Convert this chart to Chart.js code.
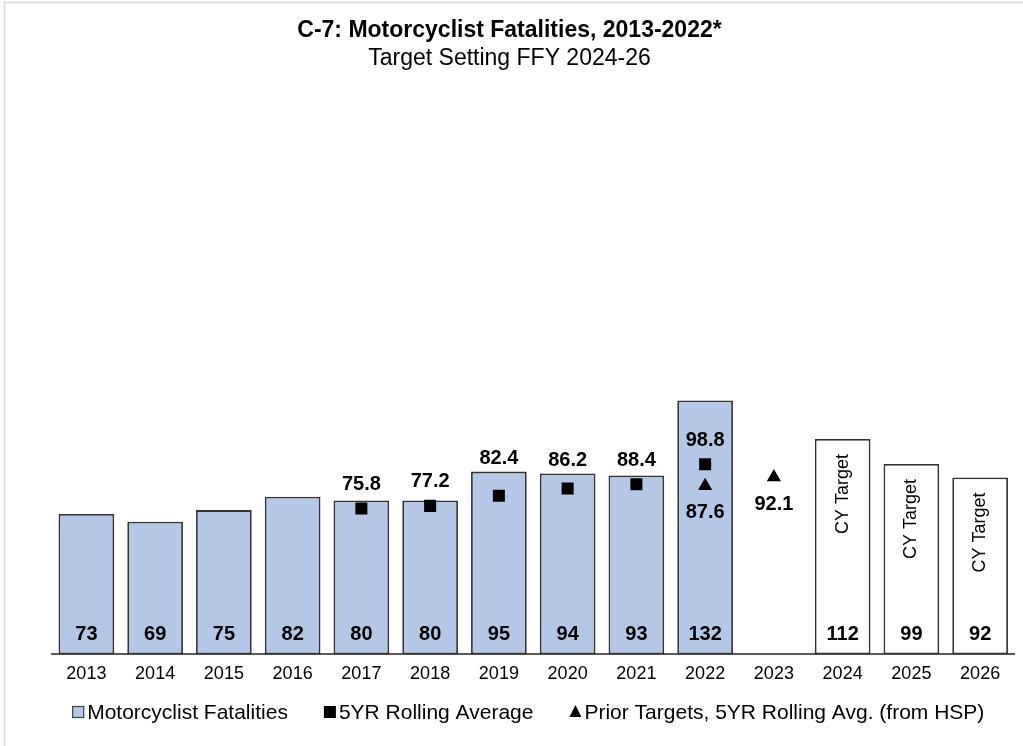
<!DOCTYPE html>
<html>
<head>
<meta charset="utf-8">
<script src="https://cdn.jsdelivr.net/npm/chart.js@4/dist/chart.umd.min.js"></script>
<style>
  html, body { margin: 0; padding: 0; background: #fff; }
  #wrap { width: 1023px; height: 746px; position: relative; }
</style>
</head>
<body>
<div id="wrap"><canvas id="grafico"></canvas></div>
<script>
// dados
const anos = ['2013','2014','2015','2016','2017','2018','2019','2020','2021','2022','2023','2024','2025','2026'];
const fatalidades = [73, 69, 75, 82, 80, 80, 95, 94, 93, 132, null, null, null, null];
const metasCY = [null, null, null, null, null, null, null, null, null, null, null, 112, 99, 92];
const mediaMovel = [null, null, null, null, 75.8, 77.2, 82.4, 86.2, 88.4, 98.8, null, null, null, null];
const metasAnteriores = [null, null, null, null, null, null, null, null, null, 87.6, 92.1, null, null, null];
const textoMeta = 'CY Target';

const FONTE = '"Liberation Sans", Arial, sans-serif';
const AZUL = '#B4C7E7';

const barras = fatalidades.map((v, i) => v !== null ? v : metasCY[i]);
const coresBarras = fatalidades.map(v => v !== null ? AZUL : '#FFFFFF');

/** rótulos de valor, texto "CY Target", legenda e moldura */
const rotulos = {
  id: 'rotulos',
  afterDatasetsDraw(chart) {
    const ctx = chart.ctx;
    ctx.save();
    ctx.fillStyle = '#000';
    ctx.textAlign = 'center';
    ctx.textBaseline = 'middle';
    ctx.font = 'bold 20px ' + FONTE;
    const base = chart.scales.y.getPixelForValue(0);
    const metaBarras = chart.getDatasetMeta(2).data;

    metaBarras.forEach((el, i) => {
      if (barras[i] === null) return;
      ctx.fillText(String(barras[i]), el.x, base - 20);
      if (metasCY[i] !== null) {
        ctx.save();
        ctx.font = '18px ' + FONTE;
        ctx.translate(el.x, el.y + 55);
        ctx.rotate(-Math.PI / 2);
        ctx.fillText(textoMeta, 0, 0);
        ctx.restore();
      }
    });
    // dataset 1 = média móvel (quadrados); rótulo sobe acima do topo da barra quando encosta nele
    chart.getDatasetMeta(1).data.forEach((el, i) => {
      if (mediaMovel[i] === null) return;
      let y = el.y - 24;
      const topo = metaBarras[i].y;
      if (y < topo + 10) y = Math.min(y, topo - 13);
      ctx.fillText(mediaMovel[i].toFixed(1), el.x, y);
    });
    // dataset 0 = metas anteriores (triângulos)
    chart.getDatasetMeta(0).data.forEach((el, i) => {
      if (metasAnteriores[i] === null) return;
      ctx.fillText(metasAnteriores[i].toFixed(1), el.x, el.y + 27);
    });
    ctx.restore();
  },
  afterDraw(chart) {
    const ctx = chart.ctx;
    ctx.save();
    // moldura cinza (topo e esquerda)
    ctx.strokeStyle = '#D9D9D9';
    ctx.lineWidth = 1.5;
    ctx.beginPath();
    ctx.moveTo(4.5, 746); ctx.lineTo(4.5, 2.5); ctx.lineTo(1023, 2.5);
    ctx.stroke();

    // legenda
    ctx.font = '21px ' + FONTE;
    ctx.textBaseline = 'middle';
    ctx.textAlign = 'left';
    const itens = chart.data.datasets.slice().reverse().map(ds => ds.label);
    const caixa = 12, folga = 3, espaco = 36;
    const larguras = itens.map(t => caixa + folga + ctx.measureText(t).width);
    const total = larguras.reduce((a, b) => a + b, 0) + espaco * (itens.length - 1);
    const area = chart.chartArea;
    let x = (area.left + area.right) / 2 - total / 2 - 5;
    const y = 712;
    itens.forEach((t, k) => {
      if (k === 0) {
        ctx.fillStyle = AZUL; ctx.strokeStyle = '#404040'; ctx.lineWidth = 1.2;
        ctx.fillRect(x, y - 6, caixa, caixa);
        ctx.strokeRect(x + 0.5, y - 5.5, caixa - 1, caixa - 1);
      } else if (k === 1) {
        ctx.fillStyle = '#000';
        ctx.fillRect(x, y - 6, caixa, caixa);
      } else {
        ctx.fillStyle = '#000';
        ctx.beginPath();
        ctx.moveTo(x + caixa / 2, y - 7); ctx.lineTo(x + caixa, y + 5); ctx.lineTo(x, y + 5);
        ctx.closePath(); ctx.fill();
      }
      ctx.fillStyle = '#000';
      ctx.fillText(t, x + caixa + folga, y + 1);
      x += larguras[k] + espaco;
    });
    ctx.restore();
  }
};

const ctx = document.getElementById('grafico').getContext('2d');
new Chart(ctx, {
  type: 'bar',
  data: {
    labels: anos,
    datasets: [
      { type: 'line', label: 'Prior Targets, 5YR Rolling Avg. (from HSP)', data: metasAnteriores, showLine: false,
        pointStyle: 'triangle', pointRadius: 8.2, pointBackgroundColor: '#000', pointBorderColor: '#000', pointBorderWidth: 0, order: 0 },
      { type: 'line', label: '5YR Rolling Average', data: mediaMovel, showLine: false,
        pointStyle: 'rect', pointRadius: 8.5, pointBackgroundColor: '#000', pointBorderColor: '#000', pointBorderWidth: 0, order: 1 },
      { type: 'bar', label: 'Motorcyclist Fatalities', data: barras, backgroundColor: coresBarras,
        borderColor: '#333333', borderWidth: 1.8, borderSkipped: false,
        barPercentage: 0.81, categoryPercentage: 1, order: 2 }
    ]
  },
  options: {
    responsive: true, maintainAspectRatio: false, animation: false,
    layout: { padding: { left: 0, right: 4, top: 0, bottom: 52 } },
    plugins: {
      legend: { display: false },
      tooltip: { enabled: false },
      title: { display: true, text: 'C-7: Motorcyclist Fatalities, 2013-2022*', color: '#000',
        font: { family: FONTE, size: 23, weight: 'bold' }, padding: { top: 17, bottom: 0 } },
      subtitle: { display: true, text: 'Target Setting FFY 2024-26', color: '#000',
        font: { family: FONTE, size: 23 }, padding: { top: 0, bottom: 5 } }
    },
    scales: {
      x: {
        grid: { display: false, drawTicks: false },
        border: { display: true, color: '#595959', width: 2 },
        ticks: { color: '#000', padding: 9, font: { family: FONTE, size: 18 } }
      },
      y: {
        min: 0, max: 300,
        grid: { display: false, drawTicks: false },
        border: { display: false },
        ticks: { display: false },
        afterFit: s => { s.width = 52; }
      }
    }
  },
  plugins: [rotulos]
});
</script>
</body>
</html>
